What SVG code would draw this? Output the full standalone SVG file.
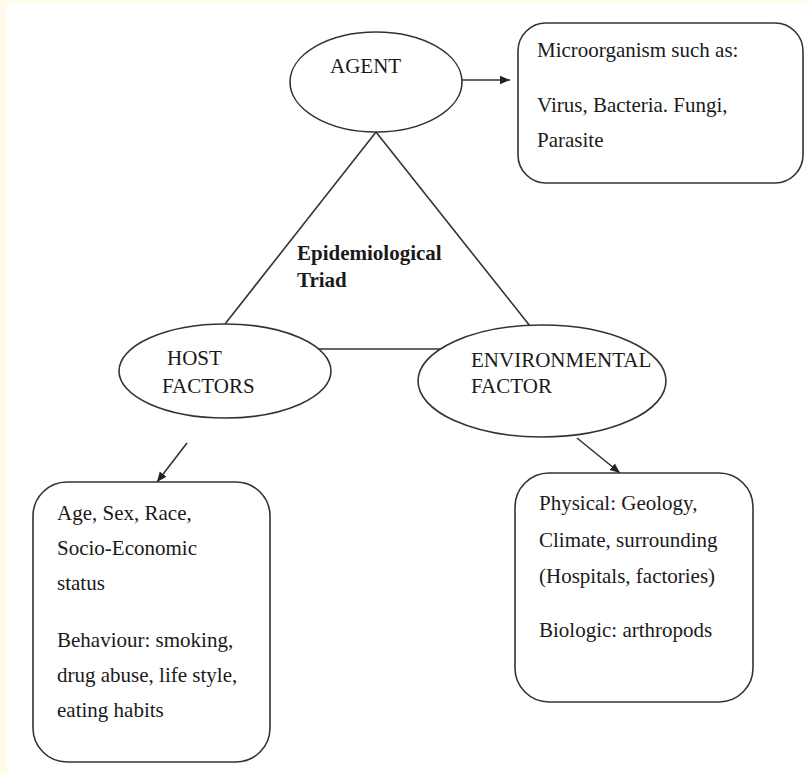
<svg xmlns="http://www.w3.org/2000/svg" width="808" height="773" viewBox="0 0 808 773">
  <style>
    .shape { fill: #ffffff; stroke: #333333; stroke-width: 1.6; }
    .line { fill: none; stroke: #333333; stroke-width: 1.6; }
    .txt { font-family: "Liberation Serif", "Times New Roman", serif; font-size: 21px; fill: #1a1a1a; }
    .bold { font-weight: bold; }
  </style>
  <defs>
    <marker id="arrow" viewBox="0 0 10 10" refX="10" refY="5" markerWidth="10" markerHeight="10" markerUnits="userSpaceOnUse" orient="auto">
      <path d="M0,0.8 L10,5 L0,9.2 Z" fill="#222222"/>
    </marker>
  </defs>
  <rect x="0" y="0" width="808" height="773" fill="#fffbe8"/>
  <rect x="7" y="3" width="801" height="770" fill="#ffffff"/>

  <g id="connectors">
    <line class="line" x1="376" y1="132" x2="225" y2="324"/>
    <line class="line" x1="376" y1="132" x2="530" y2="326"/>
    <line class="line" x1="313" y1="349" x2="444" y2="349"/>
    <line class="line" x1="462" y1="80" x2="510" y2="80" marker-end="url(#arrow)"/>
    <line class="line" x1="187" y1="443" x2="157" y2="482" marker-end="url(#arrow)"/>
    <line class="line" x1="577" y1="438" x2="620" y2="473" marker-end="url(#arrow)"/>
  </g>

  <g id="agent">
    <ellipse class="shape" cx="376" cy="82" rx="86" ry="50"/>
    <text class="txt" x="330" y="73">AGENT</text>
  </g>

  <g id="microorganism">
    <rect class="shape" x="518" y="23" width="285" height="160" rx="28" ry="28"/>
    <text class="txt" x="537" y="57">Microorganism such as:</text>
    <text class="txt" x="537" y="112">Virus, Bacteria. Fungi,</text>
    <text class="txt" x="537" y="147">Parasite</text>
  </g>

  <g id="triad-label">
    <text class="txt bold" x="297" y="260">Epidemiological</text>
    <text class="txt bold" x="297" y="287">Triad</text>
  </g>

  <g id="host">
    <ellipse class="shape" cx="225" cy="371" rx="106" ry="47"/>
    <text class="txt" x="167" y="365">HOST</text>
    <text class="txt" x="162" y="393">FACTORS</text>
  </g>

  <g id="environment">
    <ellipse class="shape" cx="542" cy="381" rx="124" ry="56"/>
    <text class="txt" x="471" y="367">ENVIRONMENTAL</text>
    <text class="txt" x="471" y="393">FACTOR</text>
  </g>

  <g id="host-details">
    <rect class="shape" x="33" y="482" width="237" height="280" rx="34" ry="34"/>
    <text class="txt" x="57" y="520">Age, Sex, Race,</text>
    <text class="txt" x="57" y="555">Socio-Economic</text>
    <text class="txt" x="57" y="590">status</text>
    <text class="txt" x="57" y="647">Behaviour: smoking,</text>
    <text class="txt" x="57" y="682">drug abuse, life style,</text>
    <text class="txt" x="57" y="717">eating habits</text>
  </g>

  <g id="environment-details">
    <rect class="shape" x="515" y="473" width="238" height="229" rx="34" ry="34"/>
    <text class="txt" x="539" y="510">Physical: Geology,</text>
    <text class="txt" x="539" y="547">Climate, surrounding</text>
    <text class="txt" x="539" y="583">(Hospitals, factories)</text>
    <text class="txt" x="539" y="637">Biologic: arthropods</text>
  </g>
</svg>
